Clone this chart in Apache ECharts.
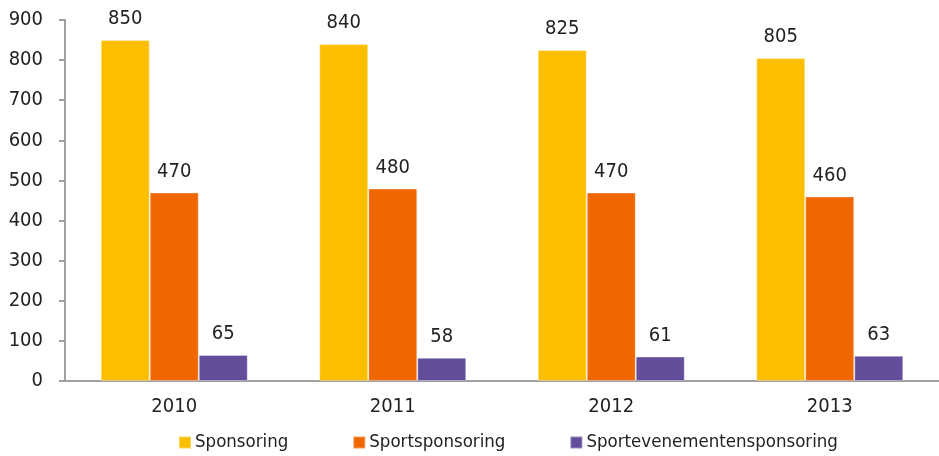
<!DOCTYPE html>
<html>
<head>
<meta charset="utf-8">
<script src="https://cdn.jsdelivr.net/npm/echarts@6/dist/echarts.min.js"></script>
<style>
  html, body { margin: 0; padding: 0; background: #fff; }
  #chart { width: 939px; height: 456px; }
</style>
</head>
<body>
<div id="chart"></div>
<script>
const years = ['2010', '2011', '2012', '2013']
const seriesNames = ['Sponsoring', 'Sportsponsoring', 'Sportevenementensponsoring']
const sponsoring = [850, 840, 825, 805]
const sportsponsoring = [470, 480, 470, 460]
const evenementen = [65, 58, 61, 63]
const yTicks = { min: 0, max: 900, interval: 100 }

const colors = ['#FCBF00', '#F06700', '#634E9C']
const font = '"DejaVu Sans Condensed", "Liberation Sans", sans-serif'

const makeSeries = (name, data, color) => ({
  name,
  type: 'bar',
  data,
  barWidth: 49,
  barGap: '0%',
  itemStyle: { color, borderColor: 'rgba(255,255,255,0.35)', borderWidth: 1 },
  label: {
    show: true,
    position: 'top',
    distance: 11,
    color: '#222',
    fontSize: 20,
    fontFamily: font
  }
})

const chart = echarts.init(document.getElementById('chart'))
chart.setOption({
  animation: false,
  grid: { left: 65, top: 20, width: 880, bottom: 75 },
  legend: {
    data: seriesNames,
    left: 173,
    top: 428,
    itemWidth: 12,
    itemHeight: 12,
    itemGap: 64,
    icon: 'rect',
    textStyle: { fontSize: 18.5, color: '#222', fontFamily: font, padding: [0, 0, 0, -1] }
  },
  xAxis: {
    type: 'category',
    data: years,
    axisLine: { lineStyle: { color: '#A0A0A0', width: 2 } },
    axisTick: { show: false },
    axisLabel: { color: '#222', fontSize: 20, fontFamily: font, margin: 16 }
  },
  yAxis: {
    type: 'value',
    min: yTicks.min,
    max: yTicks.max,
    interval: yTicks.interval,
    splitLine: { show: false },
    axisLine: { show: true, lineStyle: { color: '#A0A0A0', width: 2 } },
    axisTick: { show: true, length: 6, lineStyle: { color: '#A0A0A0', width: 2 } },
    axisLabel: { color: '#222', fontSize: 20, fontFamily: font, margin: 22 }
  },
  series: [
    makeSeries(seriesNames[0], sponsoring, colors[0]),
    makeSeries(seriesNames[1], sportsponsoring, colors[1]),
    makeSeries(seriesNames[2], evenementen, colors[2])
  ]
})
</script>
</body>
</html>
